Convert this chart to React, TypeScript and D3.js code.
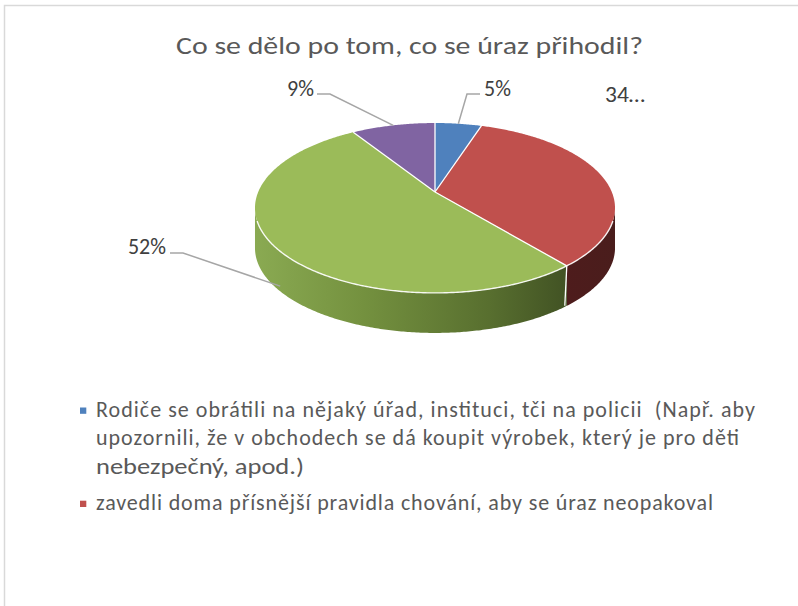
import React from "react";
import * as d3 from "d3";

const title = "Co se dělo po tom, co se úraz přihodil?";
const values = [5, 34, 52, 9];
const dataLabels = ["5%", "34…", "52%", "9%"];
const topColors = ["#4f81bd", "#c0504d", "#9bbb59", "#8064a2"];
const legendEntries = [
  [
    "Rodiče se obrátili na nějaký úřad, instituci, tči na policii  (Např. aby",
    "upozornili, že v obchodech se dá koupit výrobek, který je pro děti",
    "nebezpečný, apod.)",
  ],
  ["zavedli doma přísnější pravidla chování, aby se úraz neopakoval"],
];

const W = 798;
const H = 606;
const FONT = "Carlito, Calibri, Lato, 'Noto Sans', sans-serif";

// projection of the tilted disc (perspective)
const CX = 435;
const R = 176.8;
const PA = 45.85;
const PB = 192;
const PC = -0.188;
const DEPTH = 40;

function proj(theta: number, r = 1): [number, number] {
  const u = r * Math.sin(theta);
  const v = -r * Math.cos(theta);
  const d = 1 + PC * v;
  return [CX + (R * u) / d, (PA * v + PB) / d];
}

function arcPts(t1: number, t2: number, dy = 0): [number, number][] {
  const n = Math.max(2, Math.ceil(Math.abs(t2 - t1) / 0.01));
  const pts: [number, number][] = [];
  for (let i = 0; i <= n; i++) {
    const t = t1 + ((t2 - t1) * i) / n;
    const p = proj(t);
    pts.push([p[0], p[1] + dy]);
  }
  return pts;
}

const visStart = Math.acos(PC); // right silhouette
const visEnd = 2 * Math.PI - visStart; // left silhouette

export default function App() {
  const pie = d3.pie<number>().sort(null).value((d) => d);
  const arcs = pie(values);
  const line = d3.line();
  const center = proj(0, 0);

  const sides: { d: string; i: number }[] = [];
  arcs.forEach((a, i) => {
    const s = Math.max(a.startAngle, visStart);
    const e = Math.min(a.endAngle, visEnd);
    if (e > s) {
      const top = arcPts(s, e);
      const bot = arcPts(e, s, DEPTH);
      sides.push({ d: line([...top, ...bot])! + "Z", i });
    }
  });

  const tops = arcs.map((a, i) => ({
    d: line([center, ...arcPts(a.startAngle, a.endAngle)])! + "Z",
    i,
  }));

  const boundaries = arcs.map((a) => {
    const p = proj(a.startAngle);
    return { x1: center[0], y1: center[1], x2: p[0], y2: p[1] };
  });

  const sideSeams = arcs
    .filter((a) => a.startAngle > visStart && a.startAngle < visEnd)
    .map((a) => {
      const p = proj(a.startAngle);
      return { x: p[0], y: p[1] };
    });

  const rim = line(arcPts(visStart + 0.15, visEnd - 0.15))!;

  const mid = (i: number) => (arcs[i].startAngle + arcs[i].endAngle) / 2;
  const aBlue = proj(mid(0));
  const aPurple = proj(mid(3));
  const aGreen = proj(mid(2));
  aGreen[1] += DEPTH;
  aGreen[0] += 6;

  const leaders = [
    [[480, 94], [467, 94], aBlue],
    [[317, 94], [330, 94], aPurple],
    [[170, 253], [183, 253], aGreen],
  ];

  const sideFill = ["#4f81bd", "url(#redSide)", "url(#greenSide)", "#8064a2"];

  const legendBaselines = [[416.7, 445.3, 474], [510]];
  const legendLengths: (number | undefined)[][] = [[659, 643, 208], [617]];
  const legendAdjust = [["spacing", "spacing", "spacingAndGlyphs"], ["spacing"]];
  const markerY = [407.5, 500.7];

  return (
    <svg
      width={W}
      height={H}
      style={{ position: "absolute", left: 0, top: 0, display: "block", background: "#fff" }}
      fontFamily={FONT}
    >
      <defs>
        <linearGradient id="greenSide" gradientUnits="userSpaceOnUse" x1={255} y1={0} x2={615} y2={0}>
          <stop offset="0" stopColor="#8aaa52" />
          <stop offset="0.3" stopColor="#74913f" />
          <stop offset="0.65" stopColor="#586f2f" />
          <stop offset="0.9" stopColor="#3e4e22" />
          <stop offset="1" stopColor="#38461e" />
        </linearGradient>
        <linearGradient id="redSide" gradientUnits="userSpaceOnUse" x1={565} y1={0} x2={615} y2={0}>
          <stop offset="0" stopColor="#4e1c1c" />
          <stop offset="1" stopColor="#4a1d1c" />
        </linearGradient>
      </defs>
      <rect x={4.5} y={5.5} width={W + 20} height={H + 20} fill="none" stroke="#d9d9d9" strokeWidth={1.5} />

      <text x={409.5} y={54} textAnchor="middle" fontSize={25.5} fill="#595959" textLength={467} lengthAdjust="spacingAndGlyphs">
        {title}
      </text>

      {sides.map((s) => (
        <path key={"s" + s.i} d={s.d} fill={sideFill[s.i]} />
      ))}
      {sideSeams.map((p, k) => (
        <line key={"seam" + k} x1={p.x} y1={p.y} x2={p.x - 2} y2={p.y + DEPTH} stroke="#ffffff" strokeWidth={1.3} />
      ))}
      {tops.map((t) => (
        <path key={"t" + t.i} d={t.d} fill={topColors[t.i]} />
      ))}
      <path d={rim} fill="none" stroke="#ffffff" strokeWidth={1.4} strokeOpacity={0.9} />
      {boundaries.map((b, k) => (
        <line key={"b" + k} x1={b.x1} y1={b.y1} x2={b.x2} y2={b.y2} stroke="#ffffff" strokeWidth={1.3} />
      ))}

      {leaders.map((l, k) => (
        <polyline
          key={"l" + k}
          points={l.map((p) => p.join(",")).join(" ")}
          fill="none"
          stroke="#a6a6a6"
          strokeWidth={1.5}
        />
      ))}

      <g fontSize={22} fill="#404040">
        <text x={484} y={96}>{dataLabels[0]}</text>
        <text x={605} y={102} textLength={40} lengthAdjust="spacingAndGlyphs">{dataLabels[1]}</text>
        <text x={166} y={254} textAnchor="end">{dataLabels[2]}</text>
        <text x={314} y={96} textAnchor="end">{dataLabels[3]}</text>
      </g>

      {legendEntries.map((entry, i) => (
        <g key={"lg" + i}>
          <rect x={80} y={markerY[i]} width={6.3} height={6.3} fill={topColors[i]} />
          {entry.map((ln, j) => (
            <text
              key={j}
              x={96}
              y={legendBaselines[i][j]}
              fontSize={22}
              fill="#595959"
              style={{ whiteSpace: "pre" }}
              textLength={legendLengths[i][j]}
              lengthAdjust={legendAdjust[i][j]}
            >
              {ln}
            </text>
          ))}
        </g>
      ))}
    </svg>
  );
}
